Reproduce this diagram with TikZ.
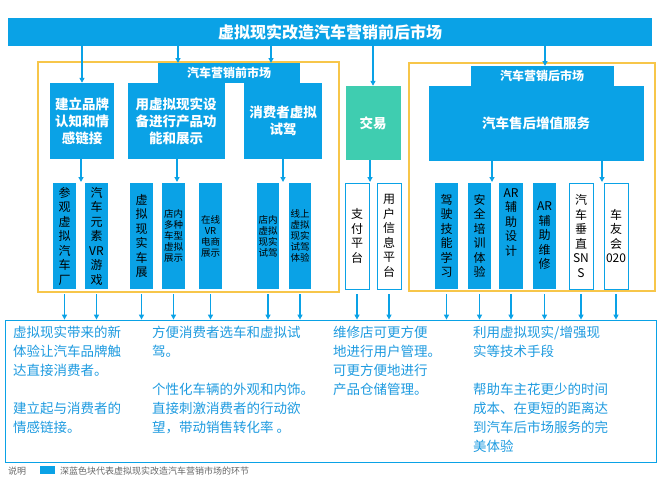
\documentclass[tikz,border=0pt]{standalone}
\usepackage{fontspec}
\setmainfont{Noto Sans CJK SC}
\usetikzlibrary{arrows.meta}
\definecolor{bl}{HTML}{0AA2E6}
\definecolor{tx}{HTML}{1E9BE0}
\definecolor{tl}{HTML}{3FCDB0}
\definecolor{og}{HTML}{F7C64A}
\definecolor{gy}{HTML}{666666}
\begin{document}
\begin{tikzpicture}[x=1pt,y=-1pt,
  arr/.style={draw=bl,line width=1.3pt,-{Triangle[length=5pt,width=5pt]}},
  frame/.style={draw=og,line width=1.3pt},
  blk/.style={fill=bl,draw=none,text=white,font=\bfseries\fontsize{13.5}{17}\selectfont,align=center,inner sep=0},
  sb/.style={fill=bl,draw=none,text=black,align=center,inner sep=0,font=\fontsize{12}{14.5}\selectfont},
  ss/.style={sb,font=\fontsize{9.5}{11}\selectfont},
  wb/.style={fill=white,draw=bl,line width=0.7pt,text=black,align=center,inner sep=0,font=\fontsize{12}{14.5}\selectfont},
  bt/.style={text=tx,anchor=north west,align=left,inner sep=0,font=\fontsize{13.5}{19}\selectfont}]
\useasboundingbox (0,0) rectangle (660,495);
\fill[white] (0,0) rectangle (660,495);
% title
\node[blk,minimum width=644,minimum height=28,font=\bfseries\fontsize{16}{18}\selectfont] (title) at (330,32) {虚拟现实改造汽车营销前后市场};
% frames
\draw[frame] (38,62) rectangle (339,292); \coordinate (fl) at (38,62);
\draw[frame] (409,63) rectangle (655,291); \coordinate (fr) at (409,63);
\node[blk,minimum width=142,minimum height=20,font=\bfseries\fontsize{12}{14}\selectfont] (lab1) at (229,73) {汽车营销前市场};
\node[blk,minimum width=143,minimum height=20,font=\bfseries\fontsize{12}{14}\selectfont] (lab2) at (542,76) {汽车营销后市场};
% mid boxes
\node[blk,minimum width=64,minimum height=76] (m1) at (82,121) {建立品牌\\认知和情\\感链接};
\node[blk,minimum width=97,minimum height=76] (m2) at (176,121) {用虚拟现实设\\备进行产品功\\能和展示};
\node[blk,minimum width=78,minimum height=76] (m3) at (283,121) {消费者虚拟\\试驾};
\node[blk,fill=tl,minimum width=55,minimum height=74] (m4) at (373,123) {交易};
\node[blk,minimum width=215,minimum height=75] (m5) at (536,123) {汽车售后增值服务};
% arrows from title
\draw[arr] (title.south -| m1) -- (m1.north);
\draw[arr] (178,46) -- (178,63);
\draw[arr] (271,46) -- (271,63);
\draw[arr] (title.south -| m4) -- (m4.north);
\draw[arr] (545,46) -- (545,66);
% small boxes
\def\sh{106}
\node[sb,minimum width=23,minimum height=\sh] (s1) at (64.5,236) {参\\观\\虚\\拟\\汽\\车\\厂};
\node[sb,minimum width=23,minimum height=\sh] (s2) at (96.5,236) {汽\\车\\元\\素\\VR\\游\\戏};
\node[sb,minimum width=23,minimum height=\sh] (s3) at (141.5,236) {虚\\拟\\现\\实\\车\\展};
\node[ss,minimum width=23,minimum height=\sh] (s4) at (173.5,236) {店内\\多种\\车型\\虚拟\\展示};
\node[ss,minimum width=23,minimum height=\sh] (s5) at (210.5,236) {在线\\VR\\电商\\展示};
\node[ss,minimum width=22,minimum height=\sh] (s6) at (268,236) {店内\\虚拟\\现实\\试驾};
\node[ss,minimum width=22,minimum height=\sh] (s7) at (300,236) {线上\\虚拟\\现实\\试驾\\体验};
\node[wb,minimum width=24,minimum height=\sh] (s8) at (357,236) {支\\付\\平\\台};
\node[wb,minimum width=24,minimum height=\sh] (s9) at (389,236) {用\\户\\信\\息\\平\\台};
\node[sb,minimum width=23,minimum height=\sh] (s10) at (446.5,236) {驾\\驶\\技\\能\\学\\习};
\node[sb,minimum width=23,minimum height=\sh] (s11) at (479.5,236) {安\\全\\培\\训\\体\\验};
\node[sb,minimum width=24,minimum height=\sh,anchor=center] (s12) at (511,236) {AR\\辅\\助\\设\\计\\[14pt]};
\node[sb,minimum width=23,minimum height=\sh] (s13) at (544.5,236) {AR\\辅\\助\\维\\修};
\node[wb,minimum width=24,minimum height=\sh] (s14) at (581,236) {汽\\车\\垂\\直\\SN\\S};
\node[wb,minimum width=24,minimum height=\sh] (s15) at (616,236) {车\\友\\会\\020};
% arrows mid -> small
\draw[arr] (81,159) -- (81,182);
\draw[arr] (177,159) -- (177,182);
\draw[arr] (283,159) -- (283,182);
\draw[arr] (m4.south -| 370,0) -- (370,182);
\draw[arr] (492,160.5) -- (492,182);
\draw[arr] (602,160.5) -- (602,182);
% bottom box
\node[draw=bl,line width=0.8pt,minimum width=651,minimum height=142,inner sep=0] (bb) at (330.5,391) {};
\foreach \s in {s1,s2,s3,s4,s5,s6,s7,s8,s9,s10,s11,s12,s13,s14,s15}
  \draw[arr] (\s.south |- 0,294) -- (\s.south |- bb.north);
\node[bt] (t1) at (13,326) {虚拟现实带来的新\\体验让汽车品牌触\\达直接消费者。\\[19pt]建立起与消费者的\\情感链接。};
\node[bt] (t2) at (152,326) {方便消费者选车和虚拟试\\驾。\\[19pt]个性化车辆的外观和内饰。\\直接刺激消费者的行动欲\\望，带动销售转化率 。};
\node[bt] (t3) at (333,326) {维修店可更方便\\地进行用户管理。\\可更方便地进行\\产品仓储管理。};
\node[bt] (t4) at (473,326) {利用虚拟现实/增强现\\实等技术手段\\[19pt]帮助车主花更少的时间\\成本、在更短的距离达\\到汽车后市场服务的完\\美体验};
% legend
\node[text=gy,font=\fontsize{9}{11}\selectfont,anchor=west,inner sep=0] (lg1) at (8,471) {说明};
\node[fill=bl,minimum width=15,minimum height=8,inner sep=0] (lgs) at (47,470) {};
\node[text=gy,font=\fontsize{9}{11}\selectfont,anchor=west,inner sep=0] (lg2) at (60,471) {深蓝色块代表虚拟现实改造汽车营销市场的环节};
\end{tikzpicture}
\end{document}
